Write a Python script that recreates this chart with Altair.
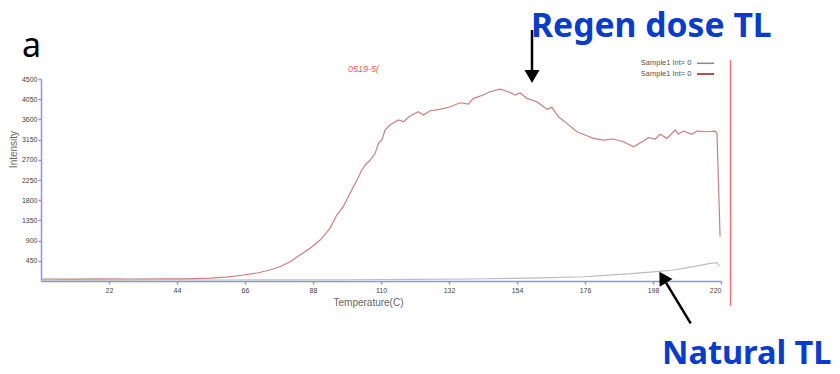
import altair as alt
import pandas as pd

# ---- data ----
regen_temp = [0, 10, 20, 30, 40, 46, 50, 55, 60, 65,
              70, 74, 77.3, 80.6, 83.8, 87.1, 90.3, 93.5, 95.7, 97.8,
              100, 102.2, 103.8, 104.9, 106.5, 108.1, 109.2, 110.3, 111.3, 112.9,
              115.6, 117.3, 119.4, 122.1, 123.7, 125.9, 129.1, 132.4, 135.6, 138.3,
              139.9, 143.1, 145.3, 148.5, 151.2, 153.4, 155, 157.2, 160.4, 163.7,
              165.3, 167.4, 170.1, 173.4, 176.6, 178.7, 182, 185.2, 188.4, 191.7,
              194.9, 196.5, 198.7, 200.3, 202.5, 205.2, 206.2, 207.9, 210.6, 212.2,
              215.4, 218.1, 218.7, 219.7]
regen_int = [45, 42, 48, 44, 46, 48, 52, 62, 88, 128,
             178, 245, 318, 430, 580, 728, 913, 1173, 1470, 1655,
             1953, 2250, 2472, 2583, 2695, 2844, 3067, 3140, 3363, 3474,
             3586, 3548, 3675, 3771, 3697, 3793, 3824, 3882, 3971, 3942,
             4069, 4143, 4216, 4276, 4216, 4143, 4194, 4069, 3993, 3824,
             3869, 3659, 3512, 3325, 3236, 3177, 3140, 3163, 3102, 2991,
             3118, 3192, 3163, 3268, 3177, 3363, 3268, 3340, 3268, 3340,
             3325, 3340, 3290, 990]

nat_temp = [0, 20, 40, 60, 80, 100, 120, 140, 154, 165,
            175.5, 181, 190, 199, 204, 207.8, 212, 216.5, 218.7, 219.5]
nat_int = [20, 20, 22, 22, 25, 28, 35, 45, 60, 75,
           95, 118, 160, 207, 240, 283, 330, 394, 408, 334]

x_ticks = [22, 44, 66, 88, 110, 132, 154, 176, 198, 220]
y_ticks = [450, 900, 1350, 1800, 2250, 2700, 3150, 3600, 4050, 4500]
legend_labels = ["Sample1 Int= 0", "Sample1 Int= 0"]
series_names = ["Natural TL", "Regen dose TL"]
series_colors = ["#bdbdbd", "#c98080"]

curves = pd.concat([
    pd.DataFrame({"Temperature": nat_temp, "Intensity": nat_int, "Series": series_names[0]}),
    pd.DataFrame({"Temperature": regen_temp, "Intensity": regen_int, "Series": series_names[1]}),
], ignore_index=True)
one = pd.DataFrame({"k": [0]})

AXIS_BLUE = "#8f8fff"
LABEL_FONT = "Liberation Sans"
BLUE_TXT = "#0a3ccc"

x_scale = alt.Scale(domain=[0, 220], nice=False, zero=False)
y_scale = alt.Scale(domain=[0, 4500], nice=False)

x_axis = alt.Axis(values=x_ticks, grid=False, domainColor=AXIS_BLUE, domainWidth=1.5,
                  tickColor=AXIS_BLUE, tickSize=3, tickWidth=1.5, format="d", labelOverlap=False,
                  labelFont=LABEL_FONT, labelFontSize=7, labelColor="#444", labelPadding=2,
                  title="Temperature(C)", titleFont="Liberation Sans", titleFontSize=10,
                  titleFontWeight="normal", titleColor="#666",
                  titleX=327, titleY=21, titleAlign="center", titleBaseline="middle")
y_axis = alt.Axis(values=y_ticks, grid=False, domainColor=AXIS_BLUE, domainWidth=1.5,
                  tickColor=AXIS_BLUE, tickSize=3, tickWidth=1.5, format="d", labelOverlap=False,
                  labelFont=LABEL_FONT, labelFontSize=7, labelColor="#444", labelPadding=1,
                  title="Intensity", titleFont="Liberation Sans", titleFontSize=10,
                  titleFontWeight="normal", titleColor="#666",
                  titleX=-28, titleY=70, titleAngle=270, titleAlign="center", titleBaseline="middle")

lines = alt.Chart(curves).mark_line(strokeWidth=1.2).encode(
    x=alt.X("Temperature:Q", scale=x_scale, axis=x_axis),
    y=alt.Y("Intensity:Q", scale=y_scale, axis=y_axis),
    color=alt.Color("Series:N", scale=alt.Scale(domain=series_names, range=series_colors), legend=None),
)

base = alt.Chart(one)

panel_a = base.mark_text(text="a", font="Noto Sans", fontSize=34, align="left",
                         baseline="alphabetic", color="black").encode(
    x=alt.value(-19), y=alt.value(-22))
regen_lbl = base.mark_text(text="Regen dose TL", font="Noto Sans", fontSize=33.7, fontWeight="bold",
                           align="left", baseline="alphabetic", color=BLUE_TXT).encode(
    x=alt.value(490), y=alt.value(-42))
nat_lbl = base.mark_text(text="Natural TL", font="Noto Sans", fontSize=32.5, fontWeight="bold",
                         align="left", baseline="alphabetic", color=BLUE_TXT).encode(
    x=alt.value(621), y=alt.value(285))

arrow1 = base.mark_rule(color="black", strokeWidth=2.5).encode(
    x=alt.value(491), y=alt.value(-49), y2=alt.value(-9))
head1 = base.mark_point(shape="triangle-down", size=225, filled=True, color="black",
                        opacity=1, strokeWidth=0).encode(x=alt.value(491), y=alt.value(-2.5))
arrow2 = base.mark_rule(color="black", strokeWidth=2.5).encode(
    x=alt.value(649.7), y=alt.value(244.3), x2=alt.value(625.1), y2=alt.value(203.8))
head2 = base.mark_point(shape="triangle-up", angle=329, size=225, filled=True, color="black",
                        opacity=1, strokeWidth=0).encode(x=alt.value(621.7), y=alt.value(198.3))

cursor = base.mark_rule(color="#ff6b6b", strokeWidth=1.3).encode(
    x=alt.value(689.5), y=alt.value(-19), y2=alt.value(227))
sample_id = base.mark_text(text="0519-5(", font="Liberation Sans", fontSize=9, fontStyle="italic",
                           align="left", baseline="middle", color="#ff5a5a").encode(
    x=alt.value(307), y=alt.value(-9.7))

leg_t1 = base.mark_text(text=legend_labels[0], font=LABEL_FONT, fontSize=7.5, align="right",
                        baseline="middle", color="#555").encode(x=alt.value(650.5), y=alt.value(-15.7))
leg_t2 = base.mark_text(text=legend_labels[1], font=LABEL_FONT, fontSize=7.5, align="right",
                        baseline="middle", color="#555").encode(x=alt.value(650.5), y=alt.value(-5))
leg_l1 = base.mark_rule(color="#888888", strokeWidth=1.5).encode(
    x=alt.value(656), x2=alt.value(673), y=alt.value(-15.7))
leg_l2 = base.mark_rule(color="#a01818", strokeWidth=1.5).encode(
    x=alt.value(656), x2=alt.value(673), y=alt.value(-5))

chart = alt.layer(
    lines, cursor, sample_id, leg_t1, leg_t2, leg_l1, leg_l2,
    panel_a, regen_lbl, nat_lbl, arrow1, head1, arrow2, head2,
).properties(
    width=680, height=202,
    autosize=alt.AutoSizeParams(type="none"),
    padding={"left": 41, "top": 79, "right": 119, "bottom": 93},
    background="white",
).configure_view(stroke=None).configure_axis(labelOverlap=False)

chart.save("out.html", embed_options={"renderer": "svg", "actions": False})
